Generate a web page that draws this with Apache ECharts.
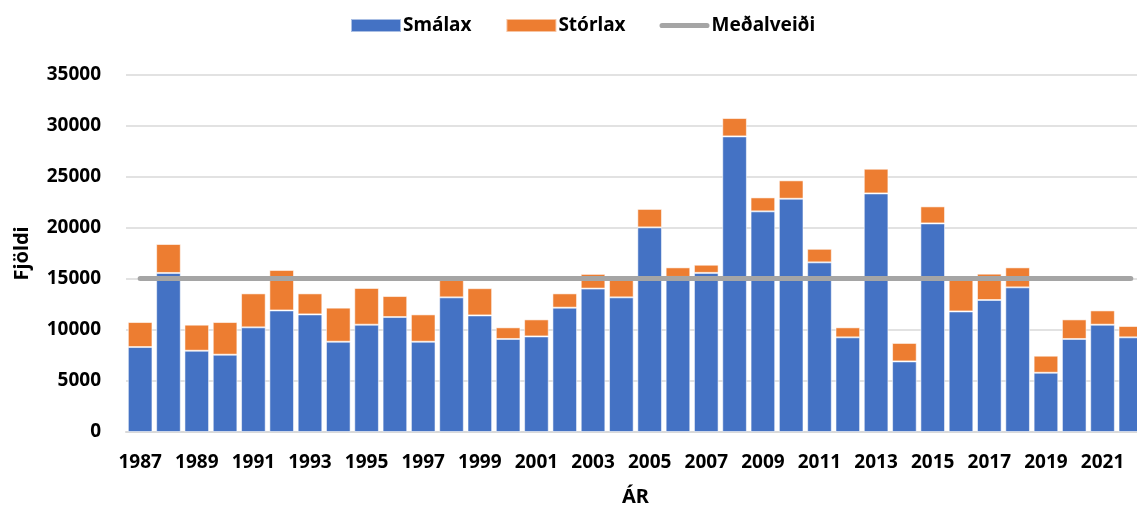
<!DOCTYPE html>
<html>
<head>
<meta charset="utf-8">
<script src="https://cdn.jsdelivr.net/npm/echarts@6/dist/echarts.min.js"></script>
<style>
  html, body { margin: 0; padding: 0; background: #fff; overflow: hidden; width: 1137px; height: 512px; }
  /* the drawing surface is a bit wider than the page so the last bar is cut off at the edge */
  #chart { width: 1150px; height: 512px; }
</style>
</head>
<body>
<div id="chart"></div>
<script>
// Ár (years)
const years = ['1987','1988','1989','1990','1991','1992','1993','1994','1995','1996',
  '1997','1998','1999','2000','2001','2002','2003','2004','2005','2006',
  '2007','2008','2009','2010','2011','2012','2013','2014','2015','2016',
  '2017','2018','2019','2020','2021','2022'];

// Smálax (grilse) per year
const smalax = [8330, 15590, 7970, 7580, 10260, 11920, 11530, 8850, 10520, 11270,
  8850, 13200, 11430, 9120, 9370, 12190, 14060, 13200, 20060, 15200,
  15600, 28980, 21630, 22870, 16630, 9280, 23390, 6920, 20450, 11820,
  12940, 14180, 5810, 9120, 10520, 9280];

// Stórlax (multi-sea-winter salmon) per year
const storlax = [2450, 2840, 2550, 3200, 3330, 3960, 2060, 3340, 3600, 2060,
  2680, 1700, 2670, 1140, 1670, 1400, 1440, 1800, 1810, 940,
  800, 1800, 1370, 1800, 1330, 980, 2420, 1810, 1670, 3280,
  2580, 1960, 1670, 1920, 1400, 1110];

// Meðalveiði (average catch) line
const medalveidi = [15060, 15060, 15060, 15060, 15060, 15060, 15060, 15060, 15060, 15060,
  15060, 15060, 15060, 15060, 15060, 15060, 15060, 15060, 15060, 15060,
  15060, 15060, 15060, 15060, 15060, 15060, 15060, 15060, 15060, 15060,
  15060, 15060, 15060, 15060, 15060, 15060];

const FONT = '"Noto Sans", "Open Sans", sans-serif';
const chart = echarts.init(document.getElementById('chart'), null, { renderer: 'canvas' });

chart.setOption({
  animation: false,
  textStyle: { fontFamily: FONT },
  legend: {
    top: 11,
    left: 345,
    itemWidth: 50,
    itemHeight: 13,
    itemGap: 34,
    textStyle: { fontFamily: FONT, fontWeight: 'bold', fontSize: 19, color: '#000', padding: [0, 0, 0, -3] },
    data: [
      { name: 'Smálax', icon: 'rect' },
      { name: 'Stórlax', icon: 'rect' },
      { name: 'Meðalveiði', icon: 'path://M2.5,0 H45.5 A2.5,2.5 0 0 1 45.5,5 H2.5 A2.5,2.5 0 0 1 2.5,0 Z' }
    ]
  },
  grid: { left: 126, width: 1019, top: 75, bottom: 80, containLabel: false },
  xAxis: {
    type: 'category',
    data: years,
    name: 'ÁR',
    nameLocation: 'middle',
    nameGap: 55,
    nameTextStyle: { fontFamily: FONT, fontWeight: 'bold', fontSize: 20, color: '#000' },
    axisLine: { lineStyle: { color: '#D9D9D9', width: 2 } },
    axisTick: { show: false },
    axisLabel: { interval: 1, margin: 21, fontFamily: FONT, fontWeight: 'bold', fontSize: 19, color: '#000' }
  },
  yAxis: {
    type: 'value',
    min: 0,
    max: 35000,
    interval: 5000,
    name: 'Fjöldi',
    nameLocation: 'middle',
    nameGap: 94,
    nameTextStyle: { fontFamily: FONT, fontWeight: 'bold', fontSize: 20, color: '#000' },
    axisLine: { show: false },
    axisTick: { show: false },
    axisLabel: {
      margin: 25, fontFamily: FONT, fontWeight: 'bold', fontSize: 19, color: '#000',
      formatter: v => String(v)
    },
    splitLine: { lineStyle: { color: '#D9D9D9', width: 1.5 } }
  },
  series: [
    {
      name: 'Smálax',
      type: 'bar',
      stack: 'veidi',
      data: smalax,
      barCategoryGap: '13%',
      itemStyle: { color: '#4472C4', borderColor: 'rgba(255,255,255,0.55)', borderWidth: 1 }
    },
    {
      name: 'Stórlax',
      type: 'bar',
      stack: 'veidi',
      data: storlax,
      barCategoryGap: '13%',
      itemStyle: { color: '#ED7D31', borderColor: 'rgba(255,255,255,0.55)', borderWidth: 1 }
    },
    {
      name: 'Meðalveiði',
      type: 'line',
      data: medalveidi,
      symbol: 'none',
      z: 5,
      itemStyle: { color: '#A5A5A5' },
      lineStyle: { color: '#A5A5A5', width: 5, cap: 'round' }
    }
  ]
});
</script>
</body>
</html>
